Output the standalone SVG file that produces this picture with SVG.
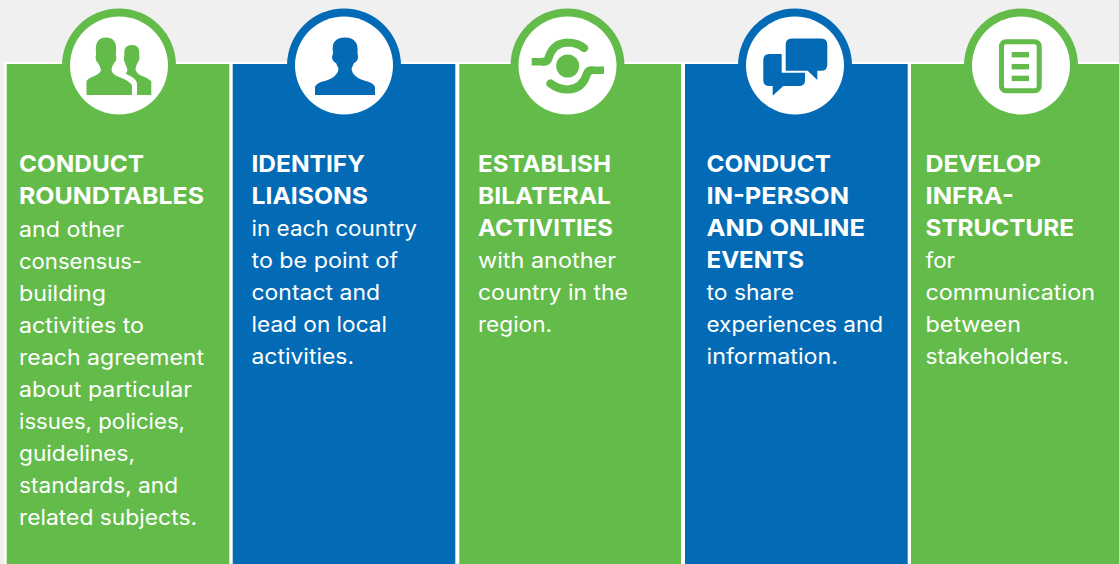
<svg xmlns="http://www.w3.org/2000/svg" width="1119" height="564" viewBox="0 0 1119 564">
<style>
text{font-family:Inter,"Open Sans","Liberation Sans",sans-serif;fill:#fff}
.h{font-size:23.5px;font-weight:700}
.b{font-size:21px;font-weight:400}
.g{fill:#63bb4a}
.u{fill:#036bb6}
.w{fill:#fff}
.sg{fill:none;stroke:#63bb4a;stroke-width:8.2;stroke-linecap:round}
</style>
<rect width="1119" height="564" fill="#f0f0f0"/>
<rect x="4.3" y="62" width="1115" height="502" fill="#fff"/>
<g id="col1">
<rect class="g" x="6.7" y="64" width="222.6" height="500"/>
<circle class="g" cx="119" cy="65.5" r="57"/><circle class="w" cx="119" cy="65.5" r="49"/>
<path class="g" d="M86.500 95V81.500Q87 79 92 77Q100 74 101 70Q100 66 98 63Q95.500 61 95.500 57Q96.500 55 96 52Q94.500 37.500 106 37.500Q117.500 37.500 116 52Q115.500 55 116.500 57Q116.500 61 114 63Q111.500 67 111.500 70Q112 74 118 76.500Q131.500 81.500 132 86V95Z"/>
<path class="g" d="M137 95V84Q136.500 79 131 76.500L125.500 73.500Q127.500 71.500 127.500 70Q126 65 124.500 62Q123.500 60 124 58Q124.500 56.500 124.300 54Q123.500 45 131.800 45Q140 45 139.300 54Q139 56.500 139.500 58Q139.500 60 138 62Q136 65 135.500 69Q136 73 141 75.500Q150.500 79 151.300 82V95Z"/>
<text class="h" x="19" y="172" textLength="125" lengthAdjust="spacingAndGlyphs">CONDUCT</text>
<text class="h" x="19" y="204" textLength="185" lengthAdjust="spacingAndGlyphs">ROUNDTABLES</text>
<text class="b" x="19" y="237" textLength="105" lengthAdjust="spacingAndGlyphs">and other</text>
<text class="b" x="19" y="269" textLength="123" lengthAdjust="spacingAndGlyphs">consensus-</text>
<text class="b" x="19" y="301" textLength="87" lengthAdjust="spacingAndGlyphs">building</text>
<text class="b" x="19" y="333" textLength="125" lengthAdjust="spacingAndGlyphs">activities to</text>
<text class="b" x="19" y="365" textLength="185" lengthAdjust="spacingAndGlyphs">reach agreement</text>
<text class="b" x="19" y="397" textLength="173" lengthAdjust="spacingAndGlyphs">about particular</text>
<text class="b" x="19" y="429" textLength="166" lengthAdjust="spacingAndGlyphs">issues, policies,</text>
<text class="b" x="19" y="461" textLength="116" lengthAdjust="spacingAndGlyphs">guidelines,</text>
<text class="b" x="19" y="493" textLength="159" lengthAdjust="spacingAndGlyphs">standards, and</text>
<text class="b" x="19" y="525" textLength="178" lengthAdjust="spacingAndGlyphs">related subjects.</text>
</g>
<g id="col2">
<rect class="u" x="232.700" y="64" width="222.600" height="500"/>
<circle class="u" cx="344" cy="65.5" r="57"/><circle class="w" cx="344" cy="65.5" r="49"/>
<path class="u" d="M315 95V87Q316 84 321 82Q333 79 336 74.500Q338.500 71.500 338.500 69Q337 65 336 63Q332 61 332 57Q332.500 55 333 53Q330.500 37.500 345 37.500Q359 37.500 357.500 53Q358 55 358 57Q358 61 354 63Q353 65 351.500 69Q352 73 355 75.500Q358 79 369 82Q374 84 375 87V95Z"/>
<text class="h" x="251.500" y="172" textLength="113.500" lengthAdjust="spacingAndGlyphs">IDENTIFY</text>
<text class="h" x="251.500" y="204" textLength="116.500" lengthAdjust="spacingAndGlyphs">LIAISONS</text>
<text class="b" x="251.500" y="236" textLength="165.500" lengthAdjust="spacingAndGlyphs">in each country</text>
<text class="b" x="251.500" y="268" textLength="146.500" lengthAdjust="spacingAndGlyphs">to be point of</text>
<text class="b" x="251.500" y="300" textLength="128.500" lengthAdjust="spacingAndGlyphs">contact and</text>
<text class="b" x="251.500" y="332" textLength="135.500" lengthAdjust="spacingAndGlyphs">lead on local</text>
<text class="b" x="251.500" y="364" textLength="102.500" lengthAdjust="spacingAndGlyphs">activities.</text>
</g>
<g id="col3">
<rect class="g" x="459.300" y="64" width="221.700" height="500"/>
<circle class="g" cx="567.500" cy="65.500" r="57"/><circle class="w" cx="567.500" cy="65.500" r="49"/>
<circle class="g" cx="567.700" cy="66" r="11.500"/>
<path class="sg" d="M584 48Q577 42.500 567.500 42.500Q553 43 548.500 58Q547.500 61.500 544 61.700"/>
<rect class="g" x="531.700" y="58" width="13" height="7.500"/>
<path class="sg" d="M550.500 83.500Q558 89.500 567.900 89.500Q582.400 89 586.900 74Q587.900 70.500 591.400 70.300"/>
<rect class="g" x="590.700" y="66.500" width="13.300" height="7.500"/>
<text class="h" x="478" y="172" textLength="133" lengthAdjust="spacingAndGlyphs">ESTABLISH</text>
<text class="h" x="478" y="204" textLength="133" lengthAdjust="spacingAndGlyphs">BILATERAL</text>
<text class="h" x="478" y="236" textLength="135" lengthAdjust="spacingAndGlyphs">ACTIVITIES</text>
<text class="b" x="478" y="268" textLength="138" lengthAdjust="spacingAndGlyphs">with another</text>
<text class="b" x="478" y="300" textLength="150" lengthAdjust="spacingAndGlyphs">country in the</text>
<text class="b" x="478" y="332" textLength="74" lengthAdjust="spacingAndGlyphs">region.</text>
</g>
<g id="col4">
<rect class="u" x="685" y="64" width="222.700" height="500"/>
<circle class="u" cx="795" cy="65.500" r="57"/><circle class="w" cx="795" cy="65.500" r="49"/>
<path class="u" d="M781.700 54V72.700H805V80Q805 86 799 86H783.300L772.700 95.700V86H769.300Q763.300 86 763.300 80V60Q763.300 54 769.300 54Z"/>
<path class="u" d="M791.700 38.500H821.300Q827.300 38.500 827.300 44.500V64.700Q827.300 70.700 821.300 70.700H817.300V80L807.700 70.700H785.700V44.500Q785.700 38.500 791.700 38.500Z"/>
<text class="h" x="706.500" y="172" textLength="124.500" lengthAdjust="spacingAndGlyphs">CONDUCT</text>
<text class="h" x="706.500" y="204" textLength="142.500" lengthAdjust="spacingAndGlyphs">IN-PERSON</text>
<text class="h" x="706.500" y="236" textLength="158.500" lengthAdjust="spacingAndGlyphs">AND ONLINE</text>
<text class="h" x="706.500" y="268" textLength="97.500" lengthAdjust="spacingAndGlyphs">EVENTS</text>
<text class="b" x="706.500" y="300" textLength="87.500" lengthAdjust="spacingAndGlyphs">to share</text>
<text class="b" x="706.500" y="332" textLength="176.500" lengthAdjust="spacingAndGlyphs">experiences and</text>
<text class="b" x="706.500" y="364" textLength="131.500" lengthAdjust="spacingAndGlyphs">information.</text>
</g>
<g id="col5">
<rect class="g" x="911" y="64" width="208" height="500"/>
<circle class="g" cx="1021" cy="65.500" r="57"/><circle class="w" cx="1021" cy="65.500" r="49"/>
<rect x="1001.500" y="41.800" width="37.700" height="49" rx="4.500" fill="none" stroke="#63bb4a" stroke-width="5"/>
<rect class="g" x="1011.700" y="52" width="17.300" height="5.400"/>
<rect class="g" x="1011.700" y="64" width="17.300" height="5.400"/>
<rect class="g" x="1011.700" y="75.700" width="17.300" height="5.400"/>
<text class="h" x="925.500" y="172" textLength="115.500" lengthAdjust="spacingAndGlyphs">DEVELOP</text>
<text class="h" x="925.500" y="204" textLength="88.500" lengthAdjust="spacingAndGlyphs">INFRA-</text>
<text class="h" x="925.500" y="236" textLength="148.500" lengthAdjust="spacingAndGlyphs">STRUCTURE</text>
<text class="b" x="925.500" y="268" textLength="29.500" lengthAdjust="spacingAndGlyphs">for</text>
<text class="b" x="925.500" y="300" textLength="169.500" lengthAdjust="spacingAndGlyphs">communication</text>
<text class="b" x="925.500" y="332" textLength="95.500" lengthAdjust="spacingAndGlyphs">between</text>
<text class="b" x="925.500" y="364" textLength="143.500" lengthAdjust="spacingAndGlyphs">stakeholders.</text>
</g>
<g id="connectors"/>
</svg>
